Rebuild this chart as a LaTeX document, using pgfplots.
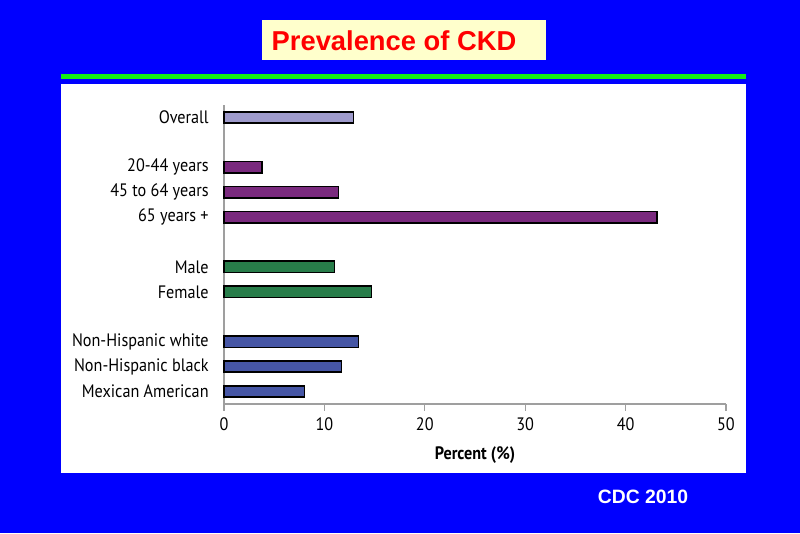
\documentclass[border=0pt]{standalone}
\usepackage{pgfplots}
\pgfplotsset{compat=1.18}
\usepackage{fontspec}
\setmainfont{Liberation Sans}
\newfontfamily\labfont[FakeStretch=0.9]{PT Sans}
\definecolor{bgblue}{RGB}{0,0,255}
\definecolor{titlebg}{RGB}{255,255,204}
\definecolor{linegreen}{RGB}{20,240,20}
\definecolor{cOverall}{RGB}{158,154,203}
\definecolor{cAge}{RGB}{122,42,126}
\definecolor{cSex}{RGB}{40,125,74}
\definecolor{cEth}{RGB}{70,86,165}
\begin{document}
\begin{tikzpicture}[x=0.75pt,y=0.75pt]
\fill[bgblue] (0,0) rectangle (800,533);
\fill[titlebg] (262,473) rectangle (546,513);
\node[text=red, font=\bfseries\fontsize{20.5}{24}\selectfont] at (394,492) {Prevalence of CKD};
\fill[linegreen] (61,454) rectangle (746,459);
\fill[white] (61,60) rectangle (746,449);
\node[white, font=\bfseries\fontsize{14.5}{17}\selectfont] at (643,36) {CDC 2010};
\begin{axis}[
  at={(168pt,96.75pt)}, anchor=south west,
  scale only axis, width=376.5pt, height=224.25pt,
  xbar, bar width=8.5pt, bar shift=0pt,
  xmin=0, xmax=50, ymin=-0.5, ymax=11.5,
  axis lines*=left,
  axis line style={gray!75, line width=0.8pt, -},
  xtick={0,10,20,30,40,50},
  ytick={0,1,2,4,5,7,8,9,11},
  yticklabels={Mexican American,Non-Hispanic black,Non-Hispanic white,Female,Male,65 years +,45 to 64 years,20-44 years,Overall},
  y tick style={draw=none},
  x tick style={gray!75, line width=0.8pt},
  tick align=outside, major tick length=5pt,
  /pgf/number format/assume math mode=true,
  ticklabel style={font=\labfont\fontsize{13.5}{15}\selectfont, text=black},
  yticklabel style={xshift=-3pt},
  xticklabel style={yshift=-2pt},
  xlabel={\labfont\bfseries\fontsize{13.5}{15}\selectfont Percent (\%)},
  xlabel style={yshift=-5pt},
  clip=false,
]
\addplot[draw=black, line width=1.2pt, fill=cOverall] coordinates {(12.9,11)};
\addplot[draw=black, line width=1.2pt, fill=cAge] coordinates {(3.8,9) (11.4,8) (43.1,7)};
\addplot[draw=black, line width=1.2pt, fill=cSex] coordinates {(11.0,5) (14.7,4)};
\addplot[draw=black, line width=1.2pt, fill=cEth] coordinates {(13.4,2) (11.7,1) (8.0,0)};
\end{axis}
\end{tikzpicture}
\end{document}
